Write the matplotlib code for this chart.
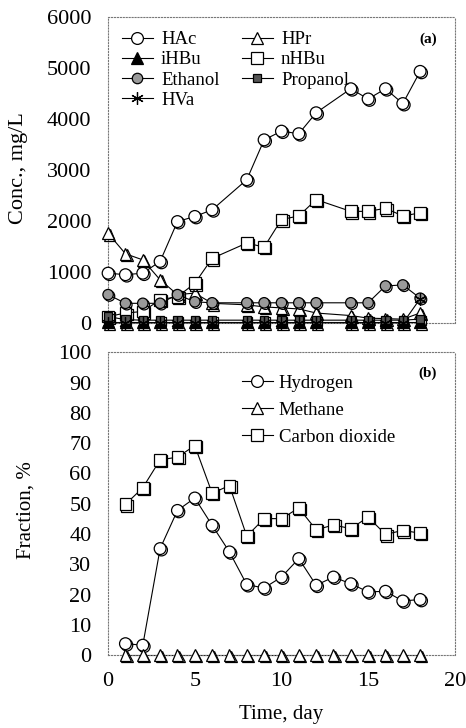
import matplotlib
matplotlib.use("Agg")
import matplotlib.pyplot as plt
import matplotlib.patheffects as pe
from matplotlib.lines import Line2D

plt.rcParams["font.family"] = ["Liberation Serif", "DejaVu Serif"]

# === DATA ===
days_a = [0, 1, 2, 3, 4, 5, 6, 8, 9, 10, 11, 12, 14, 15, 16, 17, 18]
hac = [980, 950, 980, 1210, 1990, 2090, 2220, 2810, 3590, 3760, 3710, 4120,
       4590, 4390, 4590, 4300, 4930]
hpr = [1760, 1360, 1240, 850, 560, 590, 390, 360, 320, 300, 280, 200,
       150, 100, 90, 80, 200]
ihbu = [20, 20, 20, 20, 20, 20, 20, 20, 20, 20, 20, 20, 20, 20, 20, 20, 20]
nhbu = [130, 200, 230, 460, 520, 780, 1270, 1570, 1490, 2030, 2100, 2420,
        2190, 2190, 2250, 2100, 2160]
ethanol = [560, 390, 390, 390, 560, 420, 400, 400, 400, 400, 400, 400,
           400, 400, 730, 750, 490]
propanol = [130, 70, 60, 60, 60, 60, 60, 60, 60, 60, 60, 60, 60, 60, 60, 60, 80]
hva = [0, 0, 0, 0, 0, 0, 0, 0, 0, 0, 0, 0, 0, 0, 0, 0, 480]

days_b = list(range(1, 19))
hydrogen = [3.8, 3.3, 35.2, 47.8, 51.9, 42.9, 34.1, 23.3, 22.2, 25.8, 31.9,
            23.1, 25.8, 23.6, 20.9, 21.1, 17.9, 18.4]
methane = [0] * 18
co2 = [49.8, 55.3, 64.5, 65.4, 69.2, 53.5, 56.0, 39.3, 45.1, 45.1, 48.6,
       41.4, 43.0, 41.8, 45.6, 39.9, 41.2, 40.3]

shadow = [pe.SimpleLineShadow(offset=(1.0, -1.0), shadow_color="k", alpha=1.0),
          pe.Normal()]


def series(ax, x, y, marker, mfc, ms=8.5, label=None, shade=True):
    # thin connecting line, markers drawn on top with a dark offset shadow
    ax.plot(x, y, color="k", lw=0.8, clip_on=False, zorder=2)
    ax.plot(x, y, ls="none", marker=marker, ms=ms, mfc=mfc, mec="k", mew=0.9,
            clip_on=False, zorder=3, path_effects=shadow if shade else None)
    return Line2D([], [], color="k", lw=0.8, marker=marker, ms=ms, mfc=mfc,
                  mec="k", mew=0.9, label=label)


# === PLOT ===
fig = plt.figure(figsize=(4.66, 7.28), dpi=100)
ax1 = fig.add_axes([0.232, 0.556, 0.744, 0.421])
ax2 = fig.add_axes([0.232, 0.100, 0.744, 0.416])

h_hac = series(ax1, days_a, hac, "o", "w", label="HAc")
h_hpr = series(ax1, days_a, hpr, "^", "w", label="HPr")
h_ihbu = series(ax1, days_a, ihbu, "^", "k", label="iHBu")
h_nhbu = series(ax1, days_a, nhbu, "s", "w", label="nHBu")
h_eth = series(ax1, days_a, ethanol, "o", "#9a9a9a", ms=7.5, label="Ethanol")
h_pro = series(ax1, days_a, propanol, "s", "#555555", ms=6, label="Propanol")
h_hva = series(ax1, days_a, hva, (6, 2, 0), "k", ms=9, label="HVa", shade=False)

ax1.set_xlim(0, 20)
ax1.set_ylim(0, 6000)
ax1.set_yticks(range(0, 6001, 1000))
ax1.set_xticks([])
ax1.set_ylabel("Conc., mg/L", fontsize=16)
ax1.yaxis.set_label_coords(-0.23, 0.507)
# column-first fill: col 1 = HAc, iHBu, Ethanol, HVa; col 2 = HPr, nHBu, Propanol
ax1.legend(handles=[h_hac, h_ihbu, h_eth, h_hva, h_hpr, h_nhbu, h_pro],
           loc="upper left", ncol=2, frameon=False, fontsize=13.5,
           handlelength=1.65, handletextpad=0.43, columnspacing=1.2,
           labelspacing=0.16, borderpad=0, borderaxespad=0,
           bbox_to_anchor=(0.04, 0.953))
ax1.text(0.948, 0.928, "(a)", transform=ax1.transAxes, fontsize=11,
         fontweight="bold", ha="right", va="center")

h_h2 = series(ax2, days_b, hydrogen, "o", "w", label="Hydrogen")
h_ch4 = series(ax2, days_b, methane, "^", "w", label="Methane")
h_co2 = series(ax2, days_b, co2, "s", "w", label="Carbon dioxide")

ax2.set_xlim(0, 20)
ax2.set_ylim(0, 100)
ax2.set_yticks(range(0, 101, 10))
ax2.set_xticks([0, 5, 10, 15, 20])
ax2.set_ylabel("Fraction, %", fontsize=15)
ax2.yaxis.set_label_coords(-0.21, 0.48)
ax2.set_xlabel("Time, day", fontsize=15)
ax2.xaxis.set_label_coords(0.5, -0.165)
ax2.legend(handles=[h_h2, h_ch4, h_co2], loc="upper left", frameon=False,
           fontsize=13.5, handlelength=1.65, handletextpad=0.3,
           labelspacing=0.53, borderpad=0, borderaxespad=0,
           bbox_to_anchor=(0.386, 0.926))
ax2.text(0.948, 0.93, "(b)", transform=ax2.transAxes, fontsize=11,
         fontweight="bold", ha="right", va="center")

for ax in (ax1, ax2):
    ax.tick_params(length=0, labelsize=16, pad=12)
    for sp in ax.spines.values():
        sp.set_linestyle(":")
        sp.set_linewidth(0.8)
        sp.set_edgecolor("#777777")

fig.savefig("out.png", dpi=100)
